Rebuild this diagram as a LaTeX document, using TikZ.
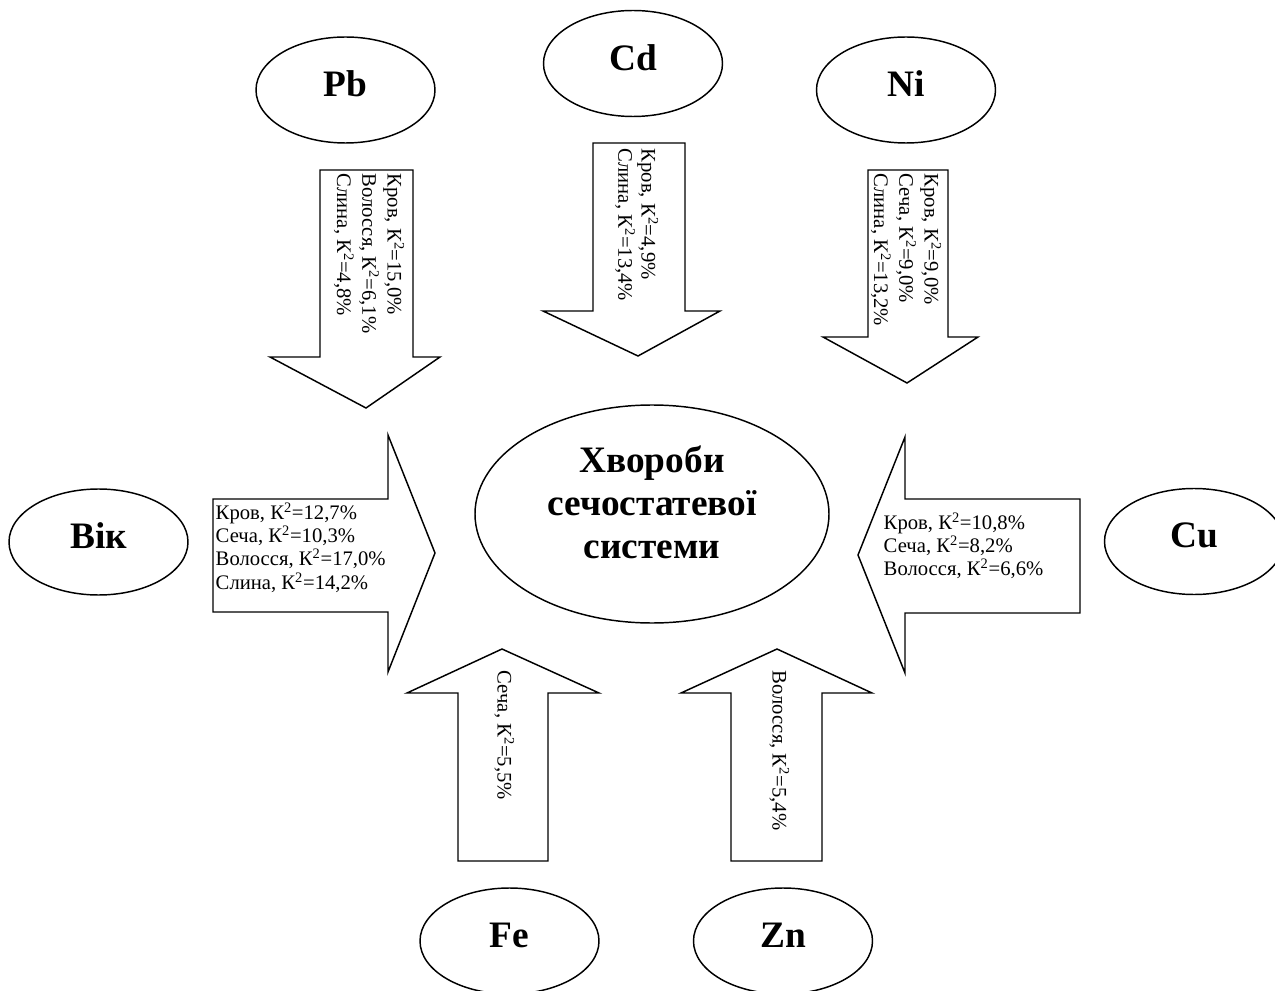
\documentclass[tikz,border=0pt]{standalone}
\usepackage{fontspec}
\setmainfont{Liberation Serif}
\usetikzlibrary{shapes.geometric}
\begin{document}
\begin{tikzpicture}[x=0.75pt,y=-0.75pt,line width=1.1pt,line join=miter,
  elem/.style={draw,ellipse,inner sep=0pt,minimum width=179*0.75pt,minimum height=106*0.75pt,text depth=9pt,font=\fontsize{28}{31}\selectfont\bfseries},
  blockarrow/.style={draw,fill=white},
  small/.style={font=\fontsize{15.5}{17.5}\selectfont,inner sep=0pt,align=left},
  wide/.style={font=\fontsize{15.5}{19}\selectfont},
  vlab/.style={small,rotate=-90,anchor=north west}]
\useasboundingbox (0,0) rectangle (1275,991);
% central
\node[draw,ellipse,inner sep=0pt,minimum width=354*0.75pt,minimum height=218*0.75pt,text depth=18pt,align=center,font=\fontsize{28}{32}\selectfont\bfseries] (main) at (652,514) {Хвороби\\сечостатевої\\системи};
% element ellipses
\node[elem] (pb) at (345.5,90) {Pb};
\node[elem] (cd) at (633,63.5) {Cd};
\node[elem] (ni) at (906,90) {Ni};
\node[elem] (vik) at (98.5,542) {Вік};
\node[elem] (cu) at (1194,541.5) {Cu};
\node[elem] (fe) at (509.5,941) {Fe};
\node[elem] (zn) at (783,941) {Zn};
% Pb arrow
\draw[blockarrow] (320,170) -- (413,170) -- (413,357) -- (440,357) -- (366,408) -- (270,357) -- (320,357) -- cycle;
\node[vlab,wide] (tpb) at (405,173) {Кров, К\textsuperscript{2}=15,0\%\\Волосся, К\textsuperscript{2}=6,1\%\\Слина, К\textsuperscript{2}=4,8\%};
% Cd arrow
\draw[blockarrow] (593,143) -- (685,143) -- (685,311) -- (720,311) -- (638,356) -- (543,311) -- (593,311) -- cycle;
\node[vlab] (tcd) at (659,148) {Кров, К\textsuperscript{2}=4,9\%\\Слина, К\textsuperscript{2}=13,4\%};
% Ni arrow
\draw[blockarrow] (868,170) -- (948,170) -- (948,337) -- (978,337) -- (907,383) -- (823,337) -- (868,337) -- cycle;
\node[vlab,wide] (tni) at (942,173) {Кров, К\textsuperscript{2}=9,0\%\\Сеча, К\textsuperscript{2}=9,0\%\\Слина, К\textsuperscript{2}=13,2\%};
% Vik arrow
\draw[blockarrow] (213,499) -- (388,499) -- (388,435) -- (435,553) -- (388,672) -- (388,612) -- (213,612) -- cycle;
\node[small,anchor=north west] (tvik) at (215,502) {Кров, К\textsuperscript{2}=12,7\%\\Сеча, К\textsuperscript{2}=10,3\%\\Волосся, К\textsuperscript{2}=17,0\%\\Слина, К\textsuperscript{2}=14,2\%};
% Cu arrow
\draw[blockarrow] (1080,499) -- (905,499) -- (905,437) -- (858,555) -- (905,673) -- (905,613) -- (1080,613) -- cycle;
\node[small,anchor=north west] (tcu) at (883,512) {Кров, К\textsuperscript{2}=10,8\%\\Сеча, К\textsuperscript{2}=8,2\%\\Волосся, К\textsuperscript{2}=6,6\%};
% Fe arrow
\draw[blockarrow] (458,861) -- (458,693) -- (407,693) -- (502,649) -- (599,693) -- (548,693) -- (548,861) -- cycle;
\node[vlab] (tfe) at (515,670) {Сеча, К\textsuperscript{2}=5,5\%};
% Zn arrow
\draw[blockarrow] (731,861) -- (731,693) -- (681,693) -- (777,649) -- (872,693) -- (822,693) -- (822,861) -- cycle;
\node[vlab] (tzn) at (790,670) {Волосся, К\textsuperscript{2}=5,4\%};
\end{tikzpicture}
\end{document}
